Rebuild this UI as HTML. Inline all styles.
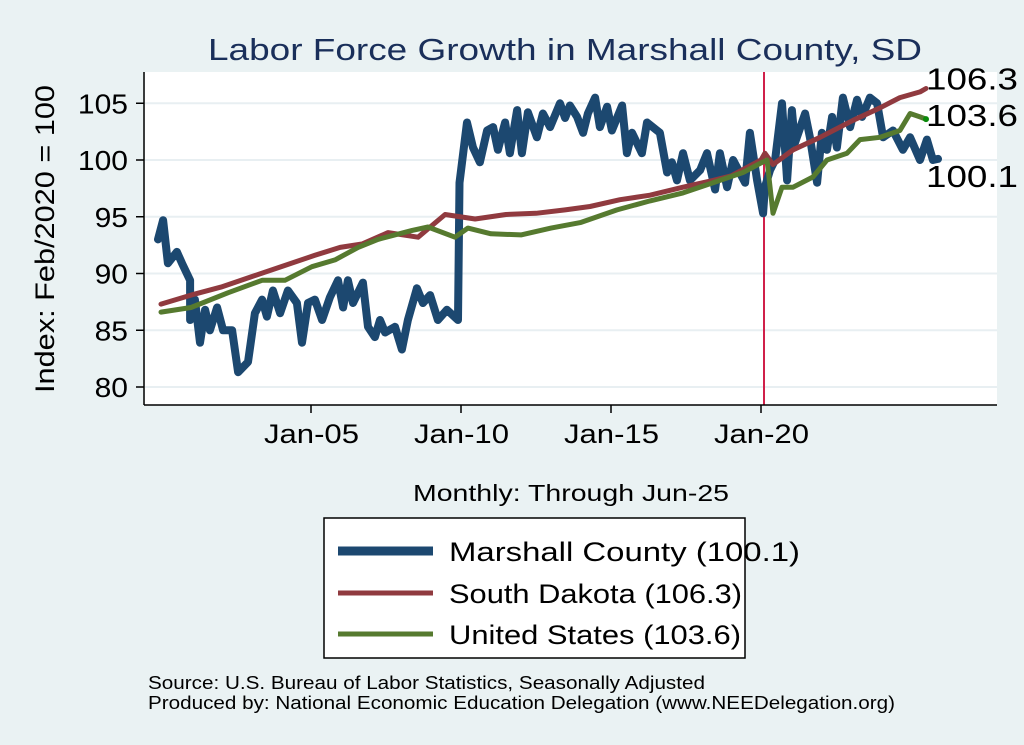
<!DOCTYPE html>
<html><head><meta charset="utf-8"><style>
body{margin:0;background:#eaf2f3;}
svg{display:block;font-family:"Liberation Sans",Arial,sans-serif;}
</style></head><body>
<svg id="chart" width="1024" height="745" viewBox="0 0 1024 745">
<rect width="1024" height="745" fill="#eaf2f3"/>
<text x="208" y="60" font-size="31" fill="#1a2f5a" textLength="714" lengthAdjust="spacingAndGlyphs">Labor Force Growth in Marshall  County, SD</text>
<rect x="145" y="72" width="852" height="333" fill="#fff"/>
<g id="grid"></g>
<g id="series"></g>
<line x1="144" y1="72" x2="144" y2="405" stroke="#000" stroke-width="1.5"/>
<line x1="144" y1="405" x2="997" y2="405" stroke="#000" stroke-width="1.5"/>
<g id="yticks"></g><g id="xticks"></g>
<text transform="translate(54,239) rotate(-90)" font-size="27" text-anchor="middle" textLength="308" lengthAdjust="spacingAndGlyphs">Index: Feb/2020 = 100</text>
<text x="413" y="501" font-size="23" textLength="316" lengthAdjust="spacingAndGlyphs">Monthly: Through Jun-25</text>
<g>
<rect x="324" y="518" width="421" height="140" fill="#fff" stroke="#000" stroke-width="1.5"/>
<line x1="338" y1="551" x2="433" y2="551" stroke="#1c4870" stroke-width="9"/>
<text x="449" y="561" font-size="27" textLength="351" lengthAdjust="spacingAndGlyphs">Marshall  County (100.1)</text>
<line x1="338" y1="593" x2="433" y2="593" stroke="#903a3f" stroke-width="5"/>
<text x="449" y="603" font-size="27" textLength="293" lengthAdjust="spacingAndGlyphs">South Dakota (106.3)</text>
<line x1="338" y1="634" x2="433" y2="634" stroke="#567a2f" stroke-width="5"/>
<text x="449" y="644" font-size="27" textLength="292" lengthAdjust="spacingAndGlyphs">United States (103.6)</text>
</g>
<text x="148" y="689" font-size="18" textLength="557" lengthAdjust="spacingAndGlyphs">Source: U.S. Bureau of Labor Statistics, Seasonally Adjusted</text>
<text x="148" y="709" font-size="18" textLength="747" lengthAdjust="spacingAndGlyphs">Produced by: National Economic Education Delegation (www.NEEDelegation.org)</text>
</svg>
<script>
const yTicks=[80,85,90,95,100,105];
const xTickYears=[2005,2010,2015,2020];
const xTickLabels=["Jan-05","Jan-10","Jan-15","Jan-20"];
const mDates=[1999.9,2000.07,2000.23,2000.53,2000.7,2000.97,2000.97,2001.13,2001.3,2001.47,2001.63,2001.87,2002.07,2002.37,2002.57,2002.9,2003.13,2003.37,2003.53,2003.73,2003.97,2004.23,2004.53,2004.7,2004.9,2005.13,2005.37,2005.63,2005.9,2006.07,2006.23,2006.4,2006.73,2006.9,2007.13,2007.3,2007.47,2007.8,2008.03,2008.23,2008.53,2008.73,2008.97,2009.23,2009.53,2009.9,2009.95,2010.2,2010.4,2010.63,2010.87,2011.07,2011.23,2011.47,2011.63,2011.87,2012.03,2012.23,2012.53,2012.73,2012.97,2013.3,2013.47,2013.63,2013.87,2014.07,2014.23,2014.47,2014.63,2014.87,2015.03,2015.37,2015.53,2015.7,2016.03,2016.2,2016.63,2016.87,2017.03,2017.2,2017.4,2017.63,2017.97,2018.2,2018.47,2018.63,2018.87,2019.07,2019.47,2019.63,2019.87,2020.07,2020.13,2020.3,2020.47,2020.7,2020.87,2021.03,2021.13,2021.47,2021.63,2021.87,2022.03,2022.2,2022.37,2022.53,2022.73,2022.97,2023.2,2023.37,2023.63,2023.87,2024.07,2024.4,2024.73,2024.97,2025.3,2025.53,2025.73,2025.9];
const mVals=[93.0,94.7,90.9,91.9,90.9,89.4,85.9,87.7,83.9,86.8,85,87,85,85,81.3,82.2,86.5,87.7,86.2,88.5,86.5,88.5,87.4,83.9,87.4,87.7,85.9,87.9,89.4,87,89.4,87.4,89.2,85.3,84.4,85.9,84.8,85.3,83.3,85.9,88.7,87.4,88.1,85.9,86.8,85.9,98,103.3,101.1,99.8,102.6,102.9,100.9,103.3,100.6,104.4,100.6,104.2,102,104.1,102.9,105,103.7,104.8,103.8,102.4,104.1,105.5,102.9,104.7,102.6,104.8,100.6,102.4,100.6,103.3,102.4,98.9,99.8,98.2,100.6,98.2,99.1,100.6,97.4,100.6,97.6,100,98,102.4,98.2,95.3,97.6,99.1,100,105,98.2,104.4,101.5,104.1,102,98,102.4,100.9,103.8,101.1,105.5,102.9,105.3,103.8,105.5,105,102,102.6,100.9,102,100,101.8,100,100.1];
const sDates=[2000,2001,2002,2003,2004,2005.13,2005.97,2006.7,2007.57,2008.57,2009.47,2010.47,2011.5,2012.5,2013.47,2014.3,2015.3,2016.3,2017.4,2018.4,2019.0,2020.0,2020.13,2020.4,2021.07,2021.97,2023.07,2023.97,2024.63,2025.3,2025.5];
const sVals=[87.3,88.1,88.8,89.7,90.6,91.6,92.3,92.6,93.6,93.2,95.2,94.8,95.2,95.3,95.6,95.9,96.5,96.9,97.6,98.2,98.6,100.0,100.6,99.6,100.9,102,103.5,104.6,105.5,106.0,106.3];
const uDates=[2000,2001,2002.23,2003.37,2004.13,2005.03,2005.8,2006.57,2007.23,2008.37,2008.9,2009.8,2010.23,2011.0,2012.0,2013.0,2014.0,2015.2,2016.3,2017.4,2018.4,2019.4,2019.9,2020.2,2020.4,2020.7,2021.07,2021.73,2022.2,2022.87,2023.3,2023.97,2024.63,2024.97,2025.3,2025.5];
const uVals=[86.6,87.0,88.3,89.4,89.4,90.6,91.2,92.3,93.0,93.8,94.1,93.2,94.0,93.5,93.4,94.0,94.5,95.6,96.4,97.1,98.0,98.9,99.6,100.0,95.3,97.6,97.6,98.5,100.0,100.6,101.8,102.0,102.6,104.1,103.8,103.6];
const endLabels=["106.3","103.6","100.1"];
const endLabelVals=[106.3,103.6,100.1];

const NS="http://www.w3.org/2000/svg";
const X0=145,X1=997,Y0=72,Y1=405;
function xs(yr){return 161+(yr-2000)*30;}
function ys(v){return 160-(v-100)*11.35;}
function mk(tag,attrs,parent,txt){const e=document.createElementNS(NS,tag);for(const k in attrs)e.setAttribute(k,attrs[k]);if(txt!=null)e.textContent=txt;document.getElementById(parent).appendChild(e);return e;}
yTicks.forEach(v=>{
  const g=mk('line',{x1:X0,x2:X1,y1:ys(v),y2:ys(v),stroke:'#e8eff2','stroke-width':2},'grid');
  
  
  const t=mk('line',{x1:136,x2:144,y1:ys(v),y2:ys(v),stroke:'#000','stroke-width':1.5},'yticks');
  
  
  const s=String(v);
  const l=mk('text',{x:128,y:ys(v)+10,'font-size':28,'text-anchor':'end',textLength:s.length*16.7,lengthAdjust:'spacingAndGlyphs'},'yticks',s);
  
  
});
xTickYears.forEach((yr,i)=>{
  const t=mk('line',{x1:xs(yr),x2:xs(yr),y1:405,y2:413,stroke:'#000','stroke-width':1.5},'xticks');
  
  
  const l=mk('text',{x:xs(yr)-47,y:443,'font-size':27,textLength:95,lengthAdjust:'spacingAndGlyphs'},'xticks',xTickLabels[i]);
  
  
});
const vl=mk('line',{x1:xs(2020.1),x2:xs(2020.1),y1:Y0,y2:Y1,stroke:'#d0204a','stroke-width':2},'series');


function path(d,v,col,w,name){
  const p=d.map((x,i)=>(i?'L':'M')+xs(x).toFixed(1)+','+ys(v[i]).toFixed(1)).join(' ');
  const e=mk('path',{d:p,fill:'none',stroke:col,'stroke-width':w,'stroke-linejoin':'round','stroke-linecap':'round'},'series');
  
  
}
path(mDates,mVals,'#1c4870',8,'line-marshall-county');
path(sDates,sVals,'#903a3f',5,'line-south-dakota');
path(uDates,uVals,'#567a2f',5,'line-united-states');
const dot=mk('circle',{cx:xs(uDates[uDates.length-1]),cy:ys(uVals[uVals.length-1]),r:3,fill:'#0a8a0a'},'series');


const offs=[-10,-4,17];
endLabels.forEach((s,i)=>{
  const l=mk('text',{x:926,y:ys(endLabelVals[i])+offs[i]+11,'font-size':31,textLength:92,lengthAdjust:'spacingAndGlyphs'},'series',s);
  
  
});
</script>
</body></html>
